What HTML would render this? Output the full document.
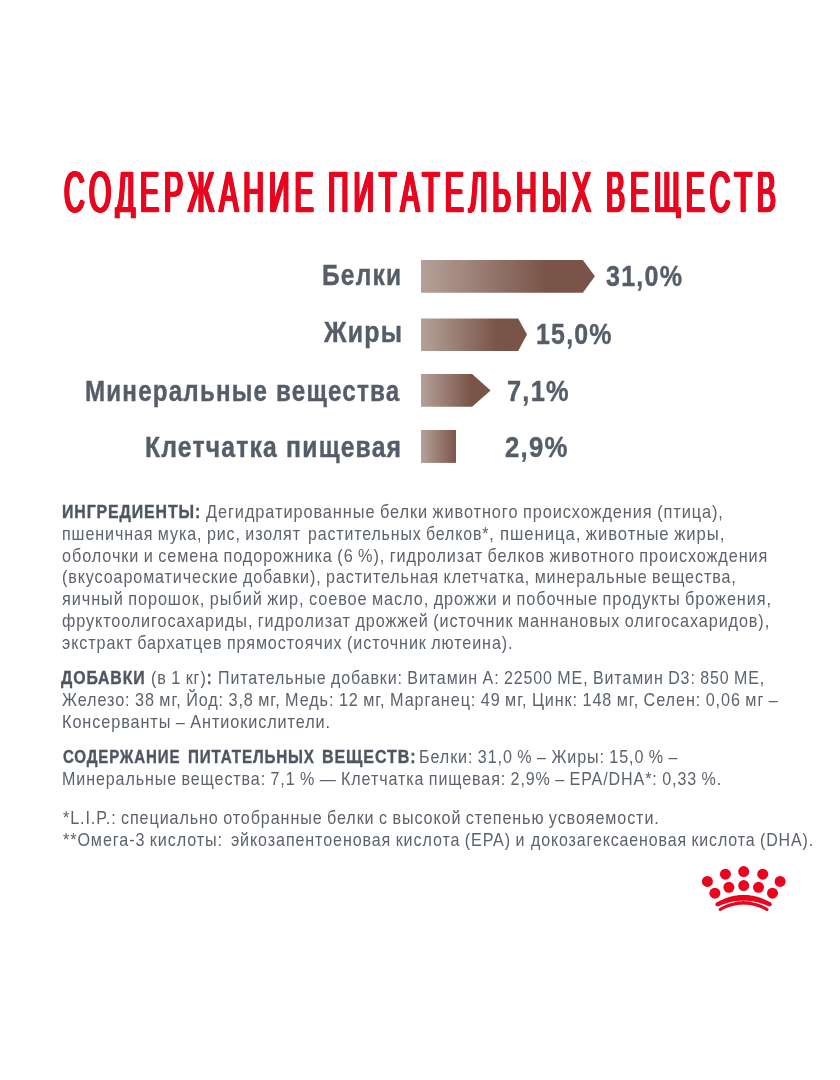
<!DOCTYPE html>
<html lang="ru">
<head>
<meta charset="utf-8">
<title>Содержание питательных веществ</title>
<style>
html,body{margin:0;padding:0;background:#fff;}
body{width:840px;height:1080px;position:relative;overflow:hidden;font-family:"Liberation Sans", sans-serif;}
main,section,h1,p,ul,li,figure{margin:0;padding:0;list-style:none;font-size:0;line-height:0;}
.t{position:absolute;display:block;white-space:pre;transform-origin:0 0;line-height:1;}
.h{font-size:57.3px;font-weight:400;color:#e8061f;letter-spacing:10px;text-shadow:2.5px 0 0 #e8061f,-2.5px 0 0 #e8061f,1.7px 0 0 #e8061f,-1.7px 0 0 #e8061f,1px 0 0 #e8061f,-1px 0 0 #e8061f;-webkit-text-stroke:0.6px #e8061f;clip-path:inset(-5px -5px 3px -5px);}
.l{font-size:28.7px;font-weight:700;color:#555d69;letter-spacing:1.4px;-webkit-text-stroke:0.4px #555d69;}
.b{font-size:17.9px;font-weight:700;color:#4f5662;letter-spacing:1px;word-spacing:2px;-webkit-text-stroke:0.35px #4f5662;}
.r{font-size:17.9px;font-weight:400;color:#5c636c;letter-spacing:1px;word-spacing:-1px;}
svg{position:absolute;left:0;top:0;}
</style>
</head>
<body>
<main>
<h1>
<span class="t h" style="left:63.80px;top:164px;transform:scaleX(0.4993)">СОДЕРЖАНИЕ</span>
<span class="t h" style="left:328.20px;top:164px;transform:scaleX(0.4980)">ПИТАТЕЛЬНЫХ</span>
<span class="t h" style="left:605.90px;top:164px;transform:scaleX(0.4982)">ВЕЩЕСТВ</span>
</h1>
<section class="chart">
<svg width="840" height="1080" viewBox="0 0 840 1080">
<defs>
<linearGradient id="g1" gradientUnits="userSpaceOnUse" x1="421" y1="0" x2="595" y2="0"><stop offset="0" stop-color="#b5a199"/><stop offset="0.72" stop-color="#7a5448"/><stop offset="1" stop-color="#7a5448"/></linearGradient>
<linearGradient id="g2" gradientUnits="userSpaceOnUse" x1="421" y1="0" x2="527" y2="0"><stop offset="0" stop-color="#b5a199"/><stop offset="0.72" stop-color="#7a5448"/><stop offset="1" stop-color="#7a5448"/></linearGradient>
<linearGradient id="g3" gradientUnits="userSpaceOnUse" x1="421" y1="0" x2="490.6" y2="0"><stop offset="0" stop-color="#b5a199"/><stop offset="0.72" stop-color="#7a5448"/><stop offset="1" stop-color="#7a5448"/></linearGradient>
<linearGradient id="g4" gradientUnits="userSpaceOnUse" x1="421" y1="0" x2="456" y2="0"><stop offset="0" stop-color="#b5a199"/><stop offset="1" stop-color="#7d574a"/></linearGradient>
</defs>
<polygon points="421,260 582.9,260 594.9,276.3 582.9,292.7 421,292.7" fill="url(#g1)"/>
<polygon points="421,318.4 518.2,318.4 527,334.6 518.2,350.9 421,350.9" fill="url(#g2)"/>
<polygon points="421,374.1 472.1,374.1 490.6,390.4 472.1,406.8 421,406.8" fill="url(#g3)"/>
<rect x="421" y="430" width="35" height="32.9" fill="url(#g4)"/>
</svg>
<ul>
<li><span class="t l" style="left:322.32px;top:261px;transform:scaleX(0.8552)">Белки</span> <span class="t l" style="left:606.37px;top:262px;transform:scaleX(0.8729)">31,0%</span></li>
<li><span class="t l" style="left:323.94px;top:318px;transform:scaleX(0.8675)">Жиры</span> <span class="t l" style="left:536.31px;top:320px;transform:scaleX(0.8680)">15,0%</span></li>
<li><span class="t l" style="left:85.33px;top:377px;transform:scaleX(0.8428)">Минеральные вещества</span> <span class="t l" style="left:506.89px;top:377px;transform:scaleX(0.8849)">7,1%</span></li>
<li><span class="t l" style="left:145.31px;top:433px;transform:scaleX(0.8609)">Клетчатка пищевая</span> <span class="t l" style="left:504.58px;top:433px;transform:scaleX(0.8966)">2,9%</span></li>
</ul>
</section>
<section class="info">
<p>
<span class="t b" style="left:62.47px;top:504px;transform:scaleX(0.8880)">ИНГРЕДИЕНТЫ:</span>
<span class="t r" style="left:206.00px;top:504px;transform:scaleX(0.9135)">Дегидратированные белки животного происхождения (птица),</span>
<span class="t r" style="left:62.10px;top:526px;transform:scaleX(0.8986)">пшеничная мука, рис, изолят</span>
<span class="t r" style="left:307.51px;top:526px;transform:scaleX(0.8885)">растительных белков*,</span>
<span class="t r" style="left:499.87px;top:526px;transform:scaleX(0.9331)">пшеница, животные жиры,</span>
<span class="t r" style="left:62.30px;top:548px;transform:scaleX(0.9078)">оболочки и семена подорожника (6 %), гидролизат белков животного происхождения</span>
<span class="t r" style="left:62.10px;top:569px;transform:scaleX(0.8996)">(вкусоароматические добавки), растительная клетчатка, минеральные вещества,</span>
<span class="t r" style="left:62.30px;top:591px;transform:scaleX(0.9107)">яичный порошок, рыбий жир, соевое масло, дрожжи и побочные продукты брожения,</span>
<span class="t r" style="left:62.30px;top:613px;transform:scaleX(0.9055)">фруктоолигосахариды, гидролизат дрожжей (источник маннановых олигосахаридов),</span>
<span class="t r" style="left:62.30px;top:635px;transform:scaleX(0.9017)">экстракт бархатцев прямостоячих (источник лютеина).</span>
</p>
<p>
<span class="t b" style="left:61.46px;top:670px;transform:scaleX(0.8855)">ДОБАВКИ</span>
<span class="t r" style="left:150.60px;top:670px;transform:scaleX(0.9028)">(в 1 кг)</span>
<span class="t b" style="left:206.70px;top:670px;transform:scaleX(0.7339)">:</span>
<span class="t r" style="left:218.41px;top:670px;transform:scaleX(0.8949)">Питательные добавки: Витамин A: 22500 МЕ, Витамин D3: 850 МЕ,</span>
<span class="t r" style="left:62.20px;top:692px;transform:scaleX(0.9061)">Железо: 38 мг, Йод: 3,8 мг, Медь: 12 мг, Марганец: 49 мг, Цинк: 148 мг, Селен: 0,06 мг –</span>
<span class="t r" style="left:62.09px;top:714px;transform:scaleX(0.9085)">Консерванты – Антиокислители.</span>
</p>
<p>
<span class="t b" style="left:63.05px;top:749px;transform:scaleX(0.8418)">СОДЕРЖАНИЕ</span>
<span class="t b" style="left:187.80px;top:749px;transform:scaleX(0.8502)">ПИТАТЕЛЬНЫХ</span>
<span class="t b" style="left:321.66px;top:749px;transform:scaleX(0.8968)">ВЕЩЕСТВ:</span>
<span class="t r" style="left:418.90px;top:749px;transform:scaleX(0.9016)">Белки: 31,0 % – Жиры: 15,0 % –</span>
<span class="t r" style="left:62.10px;top:771px;transform:scaleX(0.8983)">Минеральные вещества: 7,1 % — Клетчатка пищевая: 2,9% – EPA/DHA*: 0,33 %.</span>
</p>
<p>
<span class="t r" style="left:63.00px;top:810px;transform:scaleX(0.9015)">*L.I.P.: специально отобранные белки с высокой степенью усвояемости.</span>
</p>
<p>
<span class="t r" style="left:63.00px;top:832px;transform:scaleX(0.9037)">**Омега-3 кислоты:</span>
<span class="t r" style="left:231.20px;top:832px;transform:scaleX(0.8989)">эйкозапентоеновая кислота (EPA) и</span>
<span class="t r" style="left:530.75px;top:832px;transform:scaleX(0.8912)">докозагексаеновая кислота (DHA).</span>
</p>
</section>
<svg class="logo" width="840" height="1080" viewBox="0 0 840 1080" role="img" aria-label="Royal Canin">
<g fill="#e8061f">
<circle cx="707.4" cy="881.4" r="5.5"/><circle cx="725.4" cy="874.2" r="5.5"/><circle cx="743.7" cy="871.6" r="5.5"/><circle cx="762.7" cy="874.2" r="5.5"/><circle cx="780.1" cy="881.4" r="5.5"/>
<circle cx="714.9" cy="893.2" r="5.5"/><circle cx="728.9" cy="887.3" r="5.5"/><circle cx="743.7" cy="885.6" r="5.5"/><circle cx="758.5" cy="887.3" r="5.5"/><circle cx="772.5" cy="893.2" r="5.5"/>
<path d="M716.6,902.4 L718.8,901.2 L721.0,900.2 L723.2,899.2 L725.5,898.3 L727.7,897.5 L729.9,896.8 L732.2,896.2 L734.5,895.8 L736.7,895.4 L739.0,895.1 L741.3,895.0 L743.6,894.9 L745.9,895.0 L748.2,895.1 L750.5,895.4 L752.7,895.8 L755.0,896.2 L757.3,896.8 L759.5,897.5 L761.7,898.3 L764.0,899.2 L766.2,900.2 L768.4,901.2 L770.6,902.4 L768.6,906.2 L766.5,905.3 L764.4,904.5 L762.2,903.7 L760.1,903.1 L758.0,902.5 L755.9,902.0 L753.9,901.6 L751.8,901.3 L749.7,901.0 L747.7,900.8 L745.6,900.7 L743.6,900.7 L741.6,900.7 L739.5,900.8 L737.5,901.0 L735.4,901.3 L733.3,901.6 L731.3,902.0 L729.2,902.5 L727.1,903.1 L725.0,903.7 L722.8,904.5 L720.7,905.3 L718.6,906.2 Z"/><circle cx="717.6" cy="904.3" r="2.15"/><circle cx="769.6" cy="904.3" r="2.15"/>
<path d="M719.5,908.1 L721.5,907.0 L723.4,906.0 L725.4,905.1 L727.4,904.3 L729.4,903.5 L731.5,902.9 L733.5,902.4 L735.5,901.9 L737.5,901.6 L739.5,901.3 L741.6,901.2 L743.6,901.1 L745.6,901.2 L747.7,901.3 L749.7,901.6 L751.7,901.9 L753.7,902.4 L755.7,902.9 L757.8,903.5 L759.8,904.3 L761.8,905.1 L763.8,906.0 L765.7,907.0 L767.7,908.1 L766.3,910.7 L764.4,909.7 L762.4,908.8 L760.5,908.0 L758.6,907.3 L756.7,906.7 L754.9,906.1 L753.0,905.7 L751.1,905.3 L749.2,905.0 L747.3,904.8 L745.5,904.7 L743.6,904.6 L741.7,904.7 L739.9,904.8 L738.0,905.0 L736.1,905.3 L734.2,905.7 L732.3,906.1 L730.5,906.7 L728.6,907.3 L726.7,908.0 L724.8,908.8 L722.8,909.7 L720.9,910.7 Z"/><circle cx="720.2" cy="909.4" r="1.50"/><circle cx="767.0" cy="909.4" r="1.50"/>
</g>
</svg>
</main>
</body>
</html>
